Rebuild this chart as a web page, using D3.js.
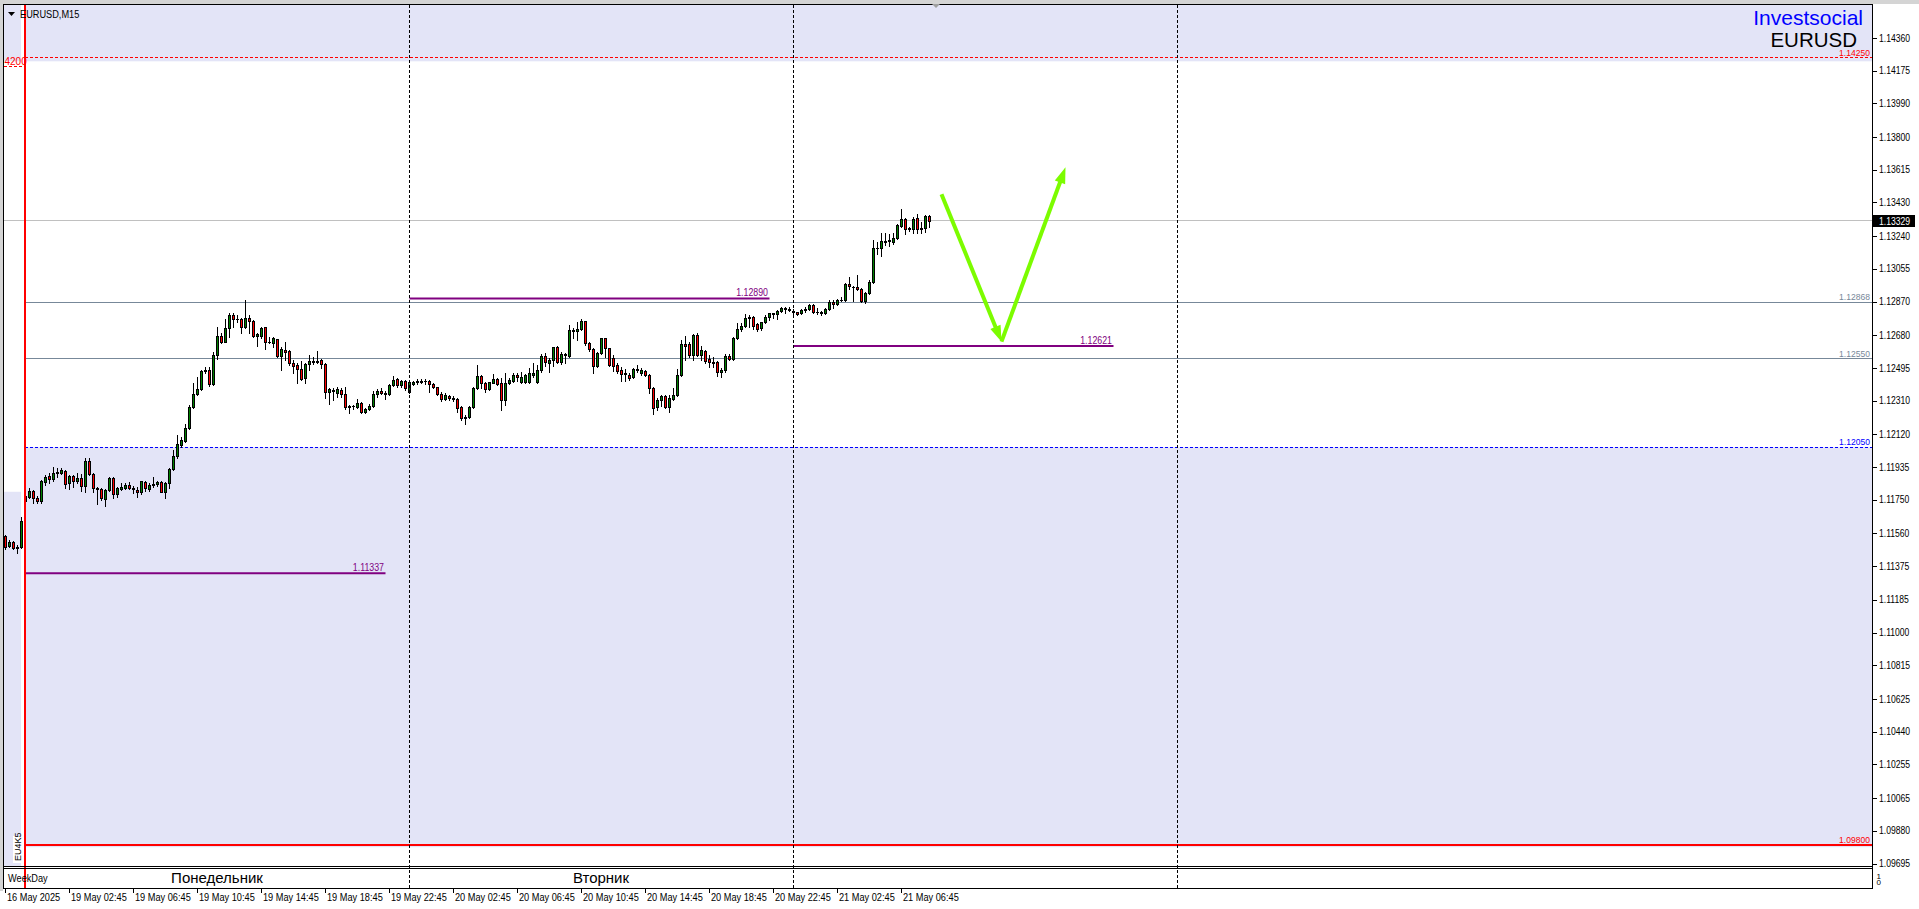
<!DOCTYPE html>
<html><head><meta charset="utf-8"><title>EURUSD M15</title>
<script src="https://cdn.jsdelivr.net/npm/d3@7/dist/d3.min.js"></script>
<style>
html,body{margin:0;padding:0;background:#fff;overflow:hidden;}
svg{display:block;}
text{font-family:"Liberation Sans",Arial,sans-serif;}
</style></head>
<body><svg id="chart" width="1919" height="909"></svg>
<script>
// ---------------- data ----------------
const chartSymbol = "EURUSD,M15";
const brandName = "Investsocial";
const brandSymbol = "EURUSD";
const barMinutes = 15;
const sessionStarts = ["2025-05-16 22:45", "2025-05-19 00:00"];
const sessionBars = [5, 227];
const futureBars = 240;

const opens = [1.11548,1.11492,1.11514,1.11481,1.11484,
1.11748,1.11767,1.11803,1.11761,1.11748,1.11855,1.11887,1.11869,1.11902,1.11906,1.11917,1.11846,
1.11887,1.11861,1.11874,1.11833,1.11972,1.11897,1.11818,1.11816,1.11759,1.11808,1.11874,1.11784,
1.11814,1.11818,1.11836,1.11818,1.11808,1.11795,1.11855,1.11812,1.11835,1.11840,1.11852,1.11799,
1.11846,1.11927,1.12002,1.12064,1.12087,1.12157,1.12275,1.12349,1.12377,1.12480,1.12486,1.12407,
1.12571,1.12678,1.12646,1.12722,1.12797,1.12772,1.12776,1.12731,1.12778,1.12763,1.12680,1.12680,
1.12727,1.12642,1.12637,1.12659,1.12565,1.12599,1.12592,1.12528,1.12514,1.12490,1.12439,1.12518,
1.12531,1.12531,1.12542,1.12520,1.12360,1.12373,1.12358,1.12373,1.12349,1.12279,1.12281,1.12279,
1.12301,1.12247,1.12266,1.12283,1.12349,1.12369,1.12358,1.12349,1.12401,1.12433,1.12401,1.12424,
1.12364,1.12407,1.12416,1.12420,1.12422,1.12424,1.12407,1.12388,1.12349,1.12322,1.12341,1.12330,
1.12320,1.12279,1.12213,1.12222,1.12275,1.12382,1.12452,1.12411,1.12379,1.12415,1.12435,1.12411,
1.12317,1.12415,1.12426,1.12458,1.12420,1.12420,1.12420,1.12458,1.12416,1.12486,1.12565,1.12527,
1.12542,1.12614,1.12533,1.12569,1.12567,1.12712,1.12708,1.12718,1.12763,1.12640,1.12605,1.12511,
1.12580,1.12665,1.12608,1.12552,1.12514,1.12486,1.12462,1.12458,1.12445,1.12492,1.12467,1.12481,
1.12458,1.12383,1.12275,1.12317,1.12339,1.12279,1.12324,1.12345,1.12458,1.12631,1.12633,1.12571,
1.12684,1.12571,1.12595,1.12548,1.12528,1.12533,1.12473,1.12484,1.12567,1.12546,1.12665,1.12716,
1.12735,1.12778,1.12784,1.12744,1.12722,1.12755,1.12784,1.12801,1.12801,1.12820,1.12835,1.12831,
1.12820,1.12812,1.12806,1.12825,1.12831,1.12853,1.12812,1.12812,1.12806,1.12831,1.12868,1.12859,
1.12882,1.12882,1.12970,1.12957,1.12953,1.12944,1.12878,1.12919,1.12982,1.13174,1.13177,1.13215,
1.13215,1.13211,1.13230,1.13300,1.13339,1.13285,1.13285,1.13343,1.13285,1.13287,1.13356];

const highs = [1.11554,1.11526,1.11520,1.11497,1.11654,
1.11799,1.11818,1.11808,1.11774,1.11865,1.11893,1.11906,1.11940,1.11931,1.11934,1.11921,1.11893,
1.11893,1.11902,1.11899,1.11987,1.11987,1.11906,1.11827,1.11821,1.11812,1.11880,1.11884,1.11827,
1.11850,1.11850,1.11855,1.11831,1.11827,1.11861,1.11861,1.11846,1.11880,1.11861,1.11859,1.11855,
1.11931,1.12034,1.12119,1.12110,1.12181,1.12288,1.12414,1.12445,1.12486,1.12501,1.12501,1.12590,
1.12731,1.12697,1.12772,1.12806,1.12806,1.12797,1.12778,1.12882,1.12797,1.12769,1.12693,1.12727,
1.12731,1.12674,1.12674,1.12663,1.12614,1.12646,1.12599,1.12543,1.12528,1.12537,1.12524,1.12571,
1.12558,1.12595,1.12546,1.12524,1.12382,1.12382,1.12388,1.12382,1.12388,1.12288,1.12288,1.12320,
1.12307,1.12273,1.12294,1.12367,1.12377,1.12382,1.12369,1.12407,1.12452,1.12439,1.12430,1.12430,
1.12426,1.12426,1.12433,1.12433,1.12433,1.12430,1.12411,1.12392,1.12364,1.12354,1.12345,1.12339,
1.12326,1.12283,1.12232,1.12283,1.12388,1.12514,1.12458,1.12416,1.12420,1.12463,1.12443,1.12439,
1.12467,1.12439,1.12471,1.12471,1.12477,1.12463,1.12495,1.12524,1.12514,1.12576,1.12580,1.12552,
1.12618,1.12622,1.12590,1.12584,1.12740,1.12721,1.12759,1.12772,1.12765,1.12646,1.12610,1.12590,
1.12669,1.12669,1.12612,1.12571,1.12524,1.12505,1.12490,1.12467,1.12496,1.12514,1.12496,1.12486,
1.12464,1.12388,1.12326,1.12345,1.12345,1.12345,1.12383,1.12490,1.12656,1.12678,1.12646,1.12688,
1.12693,1.12624,1.12599,1.12571,1.12562,1.12539,1.12496,1.12575,1.12577,1.12675,1.12750,1.12754,
1.12803,1.12797,1.12791,1.12750,1.12759,1.12797,1.12810,1.12810,1.12825,1.12844,1.12840,1.12840,
1.12829,1.12816,1.12829,1.12840,1.12859,1.12859,1.12835,1.12820,1.12835,1.12882,1.12882,1.12885,
1.12897,1.12980,1.13013,1.12963,1.13023,1.12951,1.12929,1.12995,1.13221,1.13211,1.13258,1.13258,
1.13255,1.13258,1.13311,1.13394,1.13343,1.13296,1.13352,1.13368,1.13324,1.13362,1.13362];

const lows = [1.11473,1.11488,1.11477,1.11450,1.11480,
1.11742,1.11761,1.11737,1.11733,1.11733,1.11836,1.11846,1.11861,1.11883,1.11899,1.11818,1.11814,
1.11827,1.11846,1.11803,1.11799,1.11893,1.11799,1.11727,1.11752,1.11720,1.11804,1.11761,1.11771,
1.11808,1.11812,1.11812,1.11789,1.11771,1.11786,1.11803,1.11804,1.11827,1.11833,1.11795,1.11761,
1.11818,1.11921,1.11991,1.12053,1.12081,1.12151,1.12270,1.12345,1.12373,1.12467,1.12398,1.12401,
1.12546,1.12641,1.12642,1.12674,1.12731,1.12759,1.12697,1.12721,1.12697,1.12674,1.12622,1.12669,
1.12603,1.12637,1.12614,1.12561,1.12486,1.12543,1.12514,1.12471,1.12415,1.12430,1.12411,1.12486,
1.12520,1.12524,1.12495,1.12330,1.12292,1.12317,1.12332,1.12335,1.12266,1.12241,1.12264,1.12273,
1.12243,1.12241,1.12260,1.12279,1.12335,1.12350,1.12320,1.12343,1.12396,1.12388,1.12392,1.12373,
1.12358,1.12401,1.12407,1.12411,1.12407,1.12364,1.12382,1.12345,1.12313,1.12317,1.12317,1.12313,
1.12251,1.12204,1.12179,1.12217,1.12270,1.12377,1.12382,1.12364,1.12373,1.12411,1.12401,1.12260,
1.12288,1.12407,1.12420,1.12426,1.12415,1.12415,1.12415,1.12448,1.12415,1.12477,1.12509,1.12477,
1.12509,1.12524,1.12520,1.12527,1.12561,1.12665,1.12656,1.12712,1.12627,1.12595,1.12471,1.12505,
1.12575,1.12561,1.12509,1.12480,1.12467,1.12424,1.12426,1.12430,1.12439,1.12477,1.12458,1.12452,
1.12354,1.12236,1.12260,1.12283,1.12270,1.12247,1.12317,1.12339,1.12452,1.12543,1.12558,1.12543,
1.12567,1.12543,1.12524,1.12505,1.12505,1.12452,1.12449,1.12477,1.12543,1.12543,1.12659,1.12708,
1.12731,1.12727,1.12716,1.12708,1.12712,1.12750,1.12769,1.12778,1.12774,1.12812,1.12810,1.12822,
1.12803,1.12797,1.12801,1.12816,1.12825,1.12806,1.12801,1.12797,1.12801,1.12825,1.12835,1.12853,
1.12876,1.12878,1.12942,1.12878,1.12938,1.12872,1.12863,1.12914,1.12976,1.13142,1.13132,1.13192,
1.13189,1.13196,1.13226,1.13296,1.13255,1.13273,1.13258,1.13258,1.13258,1.13268,1.13292];

const closes = [1.11484,1.11514,1.11481,1.11488,1.11631,
1.11774,1.11803,1.11761,1.11748,1.11859,1.11884,1.11872,1.11904,1.11912,1.11921,1.11842,1.11887,
1.11861,1.11874,1.11833,1.11972,1.11897,1.11818,1.11816,1.11761,1.11808,1.11874,1.11784,1.11818,
1.11827,1.11836,1.11818,1.11814,1.11795,1.11859,1.11818,1.11836,1.11840,1.11852,1.11799,1.11850,
1.11927,1.12002,1.12068,1.12091,1.12160,1.12275,1.12351,1.12379,1.12480,1.12486,1.12407,1.12571,
1.12678,1.12646,1.12722,1.12797,1.12772,1.12776,1.12727,1.12778,1.12763,1.12680,1.12688,1.12722,
1.12642,1.12646,1.12665,1.12565,1.12603,1.12590,1.12524,1.12509,1.12490,1.12434,1.12520,1.12537,
1.12539,1.12537,1.12520,1.12360,1.12377,1.12367,1.12377,1.12349,1.12279,1.12283,1.12285,1.12301,
1.12247,1.12266,1.12283,1.12349,1.12367,1.12354,1.12349,1.12401,1.12430,1.12401,1.12426,1.12382,
1.12420,1.12420,1.12424,1.12426,1.12426,1.12407,1.12388,1.12349,1.12322,1.12345,1.12326,1.12320,
1.12273,1.12213,1.12222,1.12275,1.12382,1.12452,1.12411,1.12379,1.12416,1.12435,1.12407,1.12317,
1.12415,1.12430,1.12458,1.12445,1.12448,1.12458,1.12471,1.12471,1.12486,1.12567,1.12529,1.12542,
1.12614,1.12533,1.12576,1.12576,1.12712,1.12706,1.12718,1.12763,1.12637,1.12603,1.12511,1.12584,
1.12665,1.12608,1.12514,1.12511,1.12482,1.12462,1.12471,1.12439,1.12492,1.12484,1.12484,1.12458,
1.12383,1.12270,1.12317,1.12339,1.12279,1.12326,1.12345,1.12458,1.12631,1.12624,1.12571,1.12684,
1.12571,1.12599,1.12539,1.12530,1.12533,1.12477,1.12486,1.12565,1.12546,1.12669,1.12718,1.12737,
1.12778,1.12788,1.12737,1.12718,1.12755,1.12788,1.12806,1.12806,1.12820,1.12835,1.12829,1.12827,
1.12816,1.12803,1.12825,1.12831,1.12853,1.12812,1.12816,1.12806,1.12831,1.12872,1.12857,1.12882,
1.12884,1.12972,1.12961,1.12953,1.12942,1.12878,1.12919,1.12985,1.13174,1.13177,1.13215,1.13211,
1.13221,1.13234,1.13305,1.13339,1.13283,1.13290,1.13339,1.13285,1.13290,1.13356,1.13329];

const yTicks = [1.14360,1.14175,1.13990,1.13800,1.13615,1.13430,1.13240,1.13055,1.12870,1.12680,
1.12495,1.12310,1.12120,1.11935,1.11750,1.11560,1.11375,1.11185,1.11000,1.10815,1.10625,1.10440,
1.10255,1.10065,1.09880,1.09695];

const xTickTimes = ["16 May 22:45","19 May 02:45","19 May 06:45","19 May 10:45","19 May 14:45","19 May 18:45",
"19 May 22:45","20 May 02:45","20 May 06:45","20 May 10:45","20 May 14:45","20 May 18:45","20 May 22:45",
"21 May 02:45","21 May 06:45"];
const xTickLabels = ["16 May 2025","19 May 02:45","19 May 06:45","19 May 10:45","19 May 14:45","19 May 18:45",
"19 May 22:45","20 May 02:45","20 May 06:45","20 May 10:45","20 May 14:45","20 May 18:45","20 May 22:45",
"21 May 02:45","21 May 06:45"];

const sessionMarker = "19 May 00:00";
const daySeparators = ["20 May 00:00","21 May 00:00","22 May 00:00"];
const weekdayNames = ["Понедельник","Вторник"];
const weekdayStarts = ["19 May 00:00","20 May 00:00"];
const weekdayEnds = ["20 May 00:00","21 May 00:00"];

const currentPrice = 1.13329;
const levelPrices = [1.14250, 1.12868, 1.12550, 1.12050, 1.09800];
const segmentPrices = [1.12890, 1.12621, 1.11337];
const segmentStarts = ["20 May 00:00","21 May 00:00","19 May 00:00"];
const segmentEnds = ["20 May 22:30","21 May 20:00","19 May 22:30"];
const zoneTops = [1.14600, 1.12050];
const zoneBottoms = [1.14230, 1.09790];
const prevZoneTops = [1.14600, 1.11798];
const prevZoneBottoms = [1.14230, 1.09500];
const arrowTimes = ["21 May 09:15","21 May 13:00","21 May 17:00"];
const arrowPrices = [1.13479, 1.12646, 1.13631];
const edgeLabel = "4200";
const edgeVertical = "EU4K5";
const subLabel = "WeekDay";
const subScale = ["1","0"];

// ---------------- styles ----------------
const levelStroke = ["#ff0000","#778899","#778899","#0000ff","#ff0000"];
const levelWidth = [1,1,1,1,2];
const levelDash = ["3,2",null,null,"3,2",null];
const bullColor = "#008000", bearColor = "#ff0000";
const zoneColor = "#e3e4f7";
const segColor = "#800080";
const arrowColor = "#7cfc00";
const F = '"Liberation Sans", Arial, sans-serif';

// ---------------- layout ----------------
const W = 1919, H = 909;
const plotL = 4, plotR = 1872.5, plotT = 5, plotB = 866;
const subT = 868.5, subB = 888.5;

const svg = d3.select("#chart");
const parse = d3.timeParse("%Y-%m-%d %H:%M");
const keyFmt = d3.timeFormat("%d %b %H:%M");
const slotTimes = [];
sessionStarts.forEach((s, si) => {
  const t0 = parse(s);
  for (let k = 0; k < sessionBars[si]; k++) slotTimes.push(d3.timeMinute.offset(t0, k * barMinutes));
});
const tLast = slotTimes[slotTimes.length - 1];
for (let k = 1; k <= futureBars; k++) slotTimes.push(d3.timeMinute.offset(tLast, k * barMinutes));
const slotKeys = slotTimes.map(keyFmt);
const barStep = 4;
const x = d3.scalePoint().domain(slotKeys).range([5.5, 5.5 + barStep * (slotKeys.length - 1)]);
const y = d3.scaleLinear().domain([yTicks[yTicks.length - 1], yTicks[0]]).range([864, 38.3]);
const bars = opens.map((o, i) => ({ key: slotKeys[i], o, h: highs[i], l: lows[i], c: closes[i] }));

function condense(sel, f) {
  sel.each(function () {
    const w = this.getComputedTextLength();
    if (w > 0) { this.setAttribute("textLength", (w * f).toFixed(1)); this.setAttribute("lengthAdjust", "spacingAndGlyphs"); }
  });
}

// background + chrome
svg.append("rect").attr("width", W).attr("height", H).attr("fill", "#fff");
svg.append("rect").attr("x", 0).attr("y", 0).attr("width", W).attr("height", 4).attr("fill", "#d4d4d4");
svg.append("rect").attr("x", 0).attr("y", 0).attr("width", 3).attr("height", 891).attr("fill", "#d4d4d4");

const defs = svg.append("defs");
defs.append("clipPath").attr("id", "plotClip").append("rect")
  .attr("x", plotL).attr("y", plotT).attr("width", plotR - plotL).attr("height", plotB - plotT);

const plot = svg.append("g").attr("clip-path", "url(#plotClip)");
const xMon = x(sessionMarker);
const xFriLast = x(slotKeys[sessionBars[0] - 1]);

// zones
plot.selectAll("rect.zone").data(zoneTops).join("rect").attr("class", "zone")
  .attr("x", xMon - 1.5).attr("width", plotR - (xMon - 1.5))
  .attr("y", d => y(d)).attr("height", (d, i) => y(zoneBottoms[i]) - y(d))
  .attr("fill", zoneColor);
plot.selectAll("rect.pzone").data(prevZoneTops).join("rect").attr("class", "pzone")
  .attr("x", plotL).attr("width", xFriLast - 0.5 - plotL)
  .attr("y", d => y(d)).attr("height", (d, i) => y(prevZoneBottoms[i]) - y(d))
  .attr("fill", zoneColor);

// subwindow background
svg.append("rect").attr("x", plotL).attr("y", subT).attr("width", plotR - plotL).attr("height", subB - subT).attr("fill", "#fff");

// level lines
const lv = plot.append("g").attr("shape-rendering", "crispEdges");
lv.append("line").attr("x1", plotL).attr("x2", plotR)
  .attr("y1", y(currentPrice)).attr("y2", y(currentPrice))
  .attr("stroke", "#c0c0c0").attr("stroke-width", 1);
lv.selectAll("line.level").data(levelPrices).join("line").attr("class", "level")
  .attr("x1", xMon - 0.5).attr("x2", plotR)
  .attr("y1", d => y(d)).attr("y2", d => y(d))
  .attr("stroke", (d, i) => levelStroke[i]).attr("stroke-width", (d, i) => levelWidth[i])
  .attr("stroke-dasharray", (d, i) => levelDash[i]);

// vertical separators
const vg = svg.append("g").attr("shape-rendering", "crispEdges");
vg.selectAll("line.sep").data(daySeparators).join("line").attr("class", "sep")
  .attr("x1", d => x(d)).attr("x2", d => x(d)).attr("y1", plotT).attr("y2", subB)
  .attr("stroke", "#000").attr("stroke-width", 1).attr("stroke-dasharray", "3,2");

// candles
const cg = plot.append("g").attr("shape-rendering", "crispEdges");
const bTop = d => Math.round(y(Math.max(d.o, d.c)));
const bH = d => Math.max(1, Math.round(y(Math.min(d.o, d.c))) - bTop(d) + 1);
const candle = cg.selectAll("g.candle").data(bars).join("g").attr("class", "candle");
candle.append("rect")
  .attr("x", d => x(d.key) - 0.5).attr("width", 1)
  .attr("y", d => Math.round(y(d.h)))
  .attr("height", d => Math.max(1, Math.round(y(d.l)) - Math.round(y(d.h)) + 1))
  .attr("fill", "#000");
candle.append("rect")
  .attr("x", d => x(d.key) - 1.5).attr("width", 3)
  .attr("y", bTop).attr("height", bH).attr("fill", "#000");
candle.filter(d => bH(d) > 2).append("rect")
  .attr("x", d => x(d.key) - 0.5).attr("width", 1)
  .attr("y", d => bTop(d) + 1).attr("height", d => bH(d) - 2)
  .attr("fill", d => d.c >= d.o ? bullColor : bearColor);

// session marker (red vertical)
svg.append("rect").attr("x", xMon - 1.5).attr("y", plotT).attr("width", 2).attr("height", subB - plotT).attr("fill", "#ff0000");

// purple segments
const sg = plot.append("g");
sg.selectAll("line.seg").data(segmentPrices).join("line").attr("class", "seg")
  .attr("x1", (d, i) => x(segmentStarts[i])).attr("x2", (d, i) => x(segmentEnds[i]))
  .attr("y1", d => y(d)).attr("y2", d => y(d))
  .attr("stroke", segColor).attr("stroke-width", 2);
const segText = sg.selectAll("text.seg").data(segmentPrices).join("text").attr("class", "seg")
  .attr("x", (d, i) => x(segmentEnds[i]) - 1.5).attr("y", d => y(d) - 2.5)
  .attr("text-anchor", "end").attr("font-size", 10).attr("fill", segColor)
  .attr("font-family", F).text(d => d3.format(".5f")(d));
condense(segText, 0.88);

// level labels
const lvText = plot.selectAll("text.level").data(levelPrices).join("text").attr("class", "level")
  .attr("x", 1870).attr("y", d => y(d) - 2).attr("text-anchor", "end")
  .attr("font-size", 9.5).attr("font-family", F).attr("fill", (d, i) => levelStroke[i])
  .text(d => d3.format(".5f")(d));
condense(lvText, 0.9);

// arrows
const ap = arrowTimes.map((t, i) => [x(t), y(arrowPrices[i])]);
const headLen = 16, headHalf = 5.5;
const ag = svg.append("g");
for (let i = 0; i < ap.length - 1; i++) {
  const [x0, y0] = ap[i], [x1, y1] = ap[i + 1];
  const dx = x1 - x0, dy = y1 - y0, len = Math.hypot(dx, dy);
  const ux = dx / len, uy = dy / len;
  const bx = x1 - ux * headLen, by = y1 - uy * headLen;
  ag.append("line").attr("x1", x0).attr("y1", y0).attr("x2", bx + ux * 2).attr("y2", by + uy * 2)
    .attr("stroke", arrowColor).attr("stroke-width", 4);
  ag.append("path")
    .attr("d", `M${x1},${y1}L${bx - uy * headHalf},${by + ux * headHalf}L${bx + uy * headHalf},${by - ux * headHalf}Z`)
    .attr("fill", arrowColor);
}

// frame
const fr = svg.append("g").attr("shape-rendering", "crispEdges").attr("stroke", "#000").attr("stroke-width", 1);
fr.append("line").attr("x1", 3.5).attr("x2", 3.5).attr("y1", 4).attr("y2", subB + 0.5);
fr.append("line").attr("x1", 3).attr("x2", plotR + 0.5).attr("y1", 4.5).attr("y2", 4.5);
fr.append("line").attr("x1", plotR).attr("x2", plotR).attr("y1", 4).attr("y2", subB + 0.5);
fr.append("line").attr("x1", 3).attr("x2", plotR).attr("y1", plotB + 0.5).attr("y2", plotB + 0.5);
fr.append("line").attr("x1", 3).attr("x2", plotR).attr("y1", subT).attr("y2", subT);
fr.append("line").attr("x1", 3).attr("x2", plotR).attr("y1", subB).attr("y2", subB);

// y axis
const yAxis = d3.axisRight(y).tickValues(yTicks).tickFormat(d3.format(".5f")).tickSize(4).offset(0);
const gy = svg.append("g").attr("transform", `translate(${plotR},0)`).call(yAxis);
gy.select(".domain").remove();
gy.attr("font-family", F).attr("font-size", 10);
gy.selectAll(".tick line").attr("shape-rendering", "crispEdges").attr("stroke", "#000");
gy.selectAll(".tick text").attr("x", 6.5).attr("fill", "#000");
condense(gy.selectAll(".tick text"), 0.86);

// current price box
const cpY = y(currentPrice);
svg.append("rect").attr("x", plotR + 0.5).attr("y", Math.round(cpY) - 6).attr("width", 42).attr("height", 12).attr("fill", "#000");
const cpText = svg.append("text").attr("x", plotR + 6.5).attr("y", cpY + 3.8).attr("font-size", 10)
  .attr("font-family", F).attr("fill", "#fff").text(d3.format(".5f")(currentPrice));
condense(cpText, 0.86);

// x axis
const xAxis = d3.axisBottom(x).tickValues(xTickTimes).tickFormat((d, i) => xTickLabels[i]).tickSize(4).offset(0);
const gx = svg.append("g").attr("transform", `translate(0,${subB})`).call(xAxis);
gx.select(".domain").remove();
gx.attr("font-family", F).attr("font-size", 10);
gx.selectAll(".tick line").attr("shape-rendering", "crispEdges").attr("stroke", "#000");
gx.selectAll(".tick text").attr("text-anchor", "start").attr("x", 1.5).attr("y", 5.5).attr("dy", "0.72em").attr("fill", "#000");
condense(gx.selectAll(".tick text"), 0.92);

// weekday labels in sub-window
svg.selectAll("text.wd").data(weekdayNames).join("text").attr("class", "wd")
  .attr("x", (d, i) => (x(weekdayStarts[i]) + x(weekdayEnds[i])) / 2 - 0.5).attr("y", 883)
  .attr("text-anchor", "middle").attr("font-size", 15).attr("font-family", F).attr("fill", "#000").text(d => d);
const wl = svg.append("text").attr("x", 8).attr("y", 882).attr("font-size", 10).attr("font-family", F).attr("fill", "#000").text(subLabel);
condense(wl, 0.92);
svg.selectAll("text.ss").data(subScale).join("text").attr("class", "ss")
  .attr("x", plotR + 4).attr("y", (d, i) => 878.5 + i * 6.5).attr("font-size", 8).attr("font-family", F).attr("fill", "#000").text(d => d);

// top-left title
svg.append("path").attr("d", "M8,12L15,12L11.5,16Z").attr("fill", "#000");
const tt = svg.append("text").attr("x", 20).attr("y", 17.5).attr("font-size", 10).attr("font-family", F).attr("fill", "#000").text(chartSymbol);
condense(tt, 0.92);
// chart shift marker
svg.append("path").attr("d", "M932,4L940,4L936,8Z").attr("fill", "#a0a0a0");

// brand texts
svg.append("text").attr("x", 1863).attr("y", 25).attr("text-anchor", "end").attr("font-size", 21).attr("font-family", F).attr("fill", "#0000ff").text(brandName);
svg.append("text").attr("x", 1857).attr("y", 47).attr("text-anchor", "end").attr("font-size", 20.5).attr("font-family", F).attr("fill", "#000").text(brandSymbol);

// left edge fragments
svg.append("text").attr("x", 4.5).attr("y", 65).attr("font-size", 10).attr("font-family", F).attr("fill", "#ff0000").text(edgeLabel);
svg.append("line").attr("x1", 4).attr("x2", 23).attr("y1", 66.5).attr("y2", 66.5).attr("stroke", "#ff0000").attr("stroke-dasharray", "3,2").attr("shape-rendering", "crispEdges");
svg.append("rect").attr("x", 13).attr("y", 836).attr("width", 9).attr("height", 27).attr("fill", "#fff");
svg.append("text").attr("transform", "translate(21,861) rotate(-90)").attr("font-size", 9).attr("font-family", F).attr("fill", "#000").text(edgeVertical);
</script>
</body></html>
